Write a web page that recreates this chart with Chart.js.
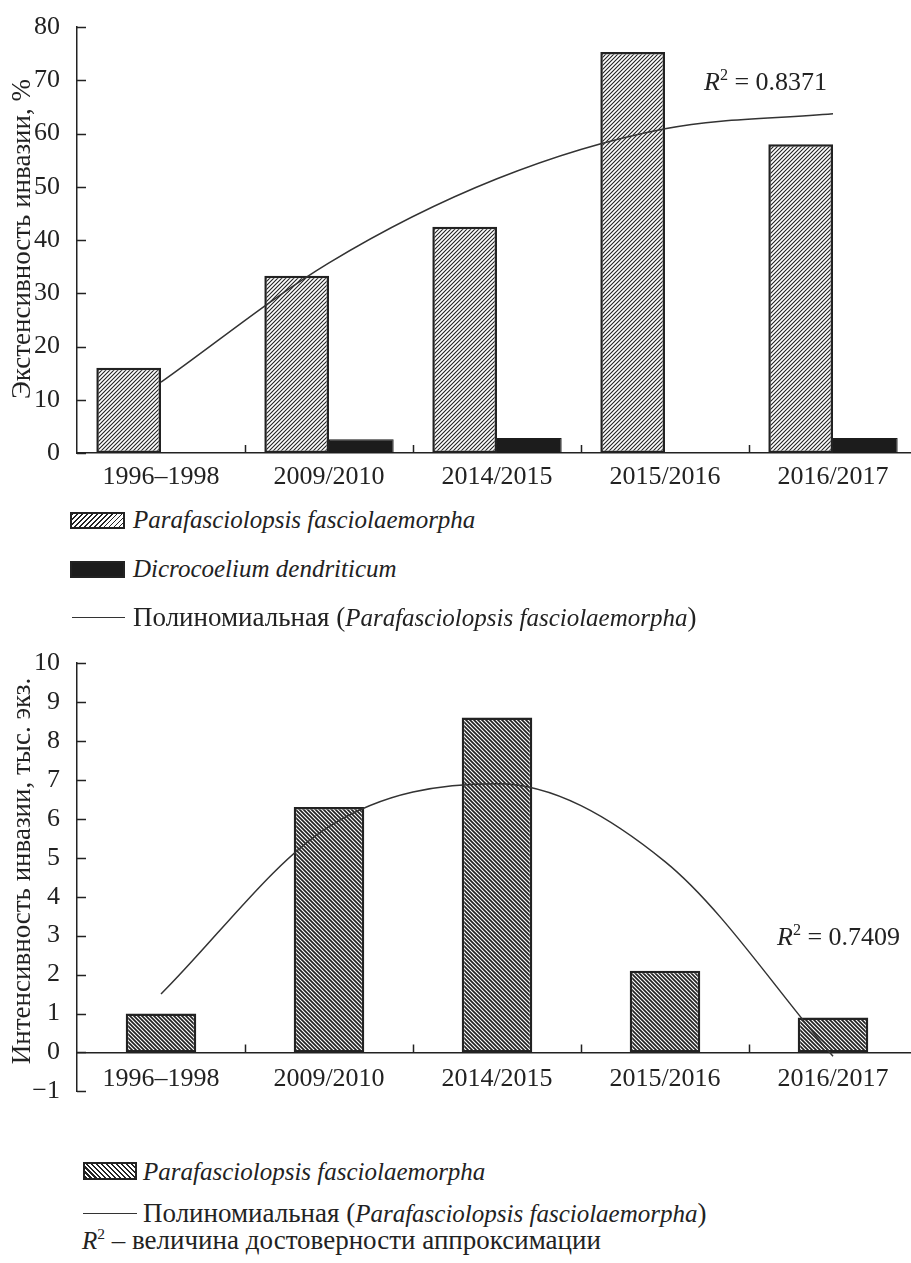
<!DOCTYPE html>
<html>
<head>
<meta charset="utf-8">
<script src="https://cdn.jsdelivr.net/npm/chart.js@4.4.1/dist/chart.umd.min.js"></script>
<style>
  body { margin: 0; width: 911px; height: 1263px; overflow: hidden; background: #fff;
         font-family: "Liberation Serif", serif; color: #222; }
  .wrap { position: relative; width: 911px; height: 1263px; }
  canvas { position: absolute; left: 0; }
  .t { position: absolute; font-size: 25px; line-height: 30px; white-space: nowrap; }
  .cy { font-size: 27px; }
  .ytitle { position: absolute; font-size: 27px; line-height: 30px; white-space: nowrap;
            transform: translate(-50%, -50%) rotate(-90deg); }
  .sw { position: absolute; box-sizing: border-box; border: 2px solid #222; }
  .ln { position: absolute; height: 0; border-top: 1.5px solid #333; }
  sup { font-size: 0.62em; vertical-align: 0; position: relative; top: -0.62em; }
</style>
</head>
<body>
<div class="wrap">
  <canvas id="ext" width="917" height="500" style="top:0"></canvas>
  <canvas id="int" width="917" height="486" style="top:630px"></canvas>

  <div class="ytitle" style="left:21px;top:239px">Экстенсивность инвазии, %</div>
  <div class="ytitle" style="left:21px;top:871px">Интенсивность инвазии, тыс. экз.</div>

  <div class="t" style="left:704px;top:67px;font-size:26px"><i>R</i><sup>2</sup> = 0.8371</div>
  <div class="t" style="left:777px;top:922px;font-size:26px"><i>R</i><sup>2</sup> = 0.7409</div>

  <!-- legend, top chart -->
  <div class="sw" style="left:70px;top:512px;width:55px;height:17px;
       background:repeating-linear-gradient(135deg,#222 0 1px,#fff 1px 3.5px)"></div>
  <div class="t" style="left:133px;top:505px"><i>Parafasciolopsis fasciolaemorpha</i></div>
  <div class="sw" style="left:70px;top:561px;width:55px;height:17px;background:#1c1c1c"></div>
  <div class="t" style="left:133px;top:554px"><i>Dicrocoelium dendriticum</i></div>
  <div class="ln" style="left:72px;top:617px;width:53px"></div>
  <div class="t" style="left:133px;top:602px"><span class="cy">Полиномиальная (</span><i>Parafasciolopsis fasciolaemorpha</i><span class="cy">)</span></div>

  <!-- legend, bottom chart -->
  <div class="sw" style="left:83px;top:1162px;width:54px;height:18px;
       background:repeating-linear-gradient(45deg,#222 0 1.5px,#fff 1.5px 3.5px)"></div>
  <div class="t" style="left:143px;top:1157px"><i>Parafasciolopsis fasciolaemorpha</i></div>
  <div class="ln" style="left:83px;top:1213px;width:54px"></div>
  <div class="t" style="left:143px;top:1198px"><span class="cy">Полиномиальная (</span><i>Parafasciolopsis fasciolaemorpha</i><span class="cy">)</span></div>
  <div class="t" style="left:82px;top:1225px"><i>R</i><sup>2</sup><span class="cy"> – величина достоверности аппроксимации</span></div>
</div>

<script>
const categories = ['1996–1998', '2009/2010', '2014/2015', '2015/2016', '2016/2017'];

// Экстенсивность инвазии, %
const extParaf = [16, 33.3, 42.5, 75.3, 58];
const extDicro = [null, 2.6, 2.8, null, 2.8];
const extTrend = [13.3, 35.7, 51.5, 60.9, 63.7];
const extYTicks = [0, 10, 20, 30, 40, 50, 60, 70, 80];

// Интенсивность инвазии, тыс. экз.
const intParaf = [1.0, 6.3, 8.6, 2.1, 0.9];
const intTrend = [1.5, 5.8, 6.9, 4.9, -0.1];
const intYTicks = [-1, 0, 1, 2, 3, 4, 5, 6, 7, 8, 9, 10];

const INK = '#222';
const tickFont = { family: 'Liberation Serif', size: 26 };

function hatch(ctx, dir, lw) {
  const s = 4;
  const c = document.createElement('canvas');
  c.width = c.height = s;
  const g = c.getContext('2d');
  g.fillStyle = '#fff';
  g.fillRect(0, 0, s, s);
  g.strokeStyle = INK;
  g.lineWidth = lw;
  g.beginPath();
  if (dir === '/') {
    g.moveTo(0, s); g.lineTo(s, 0);
    g.moveTo(-1, 1); g.lineTo(1, -1);
    g.moveTo(s - 1, s + 1); g.lineTo(s + 1, s - 1);
  } else {
    g.moveTo(0, 0); g.lineTo(s, s);
    g.moveTo(-1, s - 1); g.lineTo(1, s + 1);
    g.moveTo(s - 1, -1); g.lineTo(s + 1, 1);
  }
  g.stroke();
  return ctx.createPattern(c, 'repeat');
}

// ticks pointing into the plot: y ticks to the right, category ticks upward
const innerTicks = {
  id: 'innerTicks',
  afterDraw(chart, args, opts) {
    const { ctx } = chart;
    const x = chart.scales.x, y = chart.scales.y;
    ctx.save();
    ctx.strokeStyle = INK;
    ctx.lineWidth = 1.5;
    ctx.beginPath();
    opts.yTicks.forEach(v => {
      const py = Math.round(y.getPixelForValue(v)) + 0.5;
      ctx.moveTo(y.right, py);
      ctx.lineTo(y.right + 9, py);
    });
    const base = y.getPixelForValue(0);
    for (let i = 1; i < categories.length; i++) {
      const px = Math.round((x.getPixelForValue(i - 1) + x.getPixelForValue(i)) / 2) + 0.5;
      ctx.moveTo(px, base);
      ctx.lineTo(px, base - 8);
    }
    ctx.stroke();
    ctx.restore();
  }
};

function yScale(ticks) {
  return {
    min: ticks[0],
    max: ticks[ticks.length - 1],
    grid: { display: false },
    border: { color: INK, width: 1.5 },
    ticks: { stepSize: ticks[1] - ticks[0], font: tickFont, color: INK, padding: 9, autoSkip: false,
             callback: v => String(v).replace('-', '−') },
    afterFit(s) { s.width = 77; }
  };
}

const baseOptions = (yTicks, pad) => ({
  responsive: false,
  animation: false,
  devicePixelRatio: 1,
  layout: { padding: pad },
  plugins: { legend: { display: false }, tooltip: { enabled: false }, innerTicks: { yTicks } }
});

const trendStyle = { type: 'line', borderColor: '#333', borderWidth: 1.5, pointRadius: 0,
                     cubicInterpolationMode: 'monotone', fill: false, order: 0 };

const c1 = document.getElementById('ext');
const ctx1 = c1.getContext('2d');
const opt1 = baseOptions(extYTicks, { top: 27, left: 0, right: 0, bottom: 0 });
opt1.datasets = { bar: { categoryPercentage: 0.77, barPercentage: 1, borderSkipped: false } };
opt1.scales = {
  x: {
    grid: { display: false },
    border: { color: INK, width: 1.5 },
    ticks: { font: tickFont, color: INK, padding: 1, maxRotation: 0, autoSkip: false },
    afterFit(s) { s.height = 47; }
  },
  y: yScale(extYTicks)
};
new Chart(ctx1, {
  type: 'bar',
  data: {
    labels: categories,
    datasets: [
      { ...trendStyle, data: extTrend },
      { data: extParaf, backgroundColor: hatch(ctx1, '/', 1.1), borderColor: INK, borderWidth: 2.5, order: 1 },
      { data: extDicro, backgroundColor: '#1c1c1c', borderColor: '#1c1c1c', borderWidth: 1, order: 2 }
    ]
  },
  options: opt1,
  plugins: [innerTicks]
});

const c2 = document.getElementById('int');
const ctx2 = c2.getContext('2d');
const opt2 = baseOptions(intYTicks, { top: 33, left: 0, right: 0, bottom: 15 });
opt2.datasets = { bar: { categoryPercentage: 0.42, barPercentage: 1, borderSkipped: false } };
opt2.scales = {
  x: {
    position: { y: 0 },
    grid: { display: false },
    border: { color: INK, width: 1.5 },
    ticks: { font: tickFont, color: INK, padding: 3, maxRotation: 0, autoSkip: false }
  },
  y: yScale(intYTicks)
};
new Chart(ctx2, {
  type: 'bar',
  data: {
    labels: categories,
    datasets: [
      { ...trendStyle, data: intTrend },
      { data: intParaf, backgroundColor: hatch(ctx2, '\\', 1.7), borderColor: INK, borderWidth: 2.5, order: 1 }
    ]
  },
  options: opt2,
  plugins: [innerTicks]
});
</script>
</body>
</html>
